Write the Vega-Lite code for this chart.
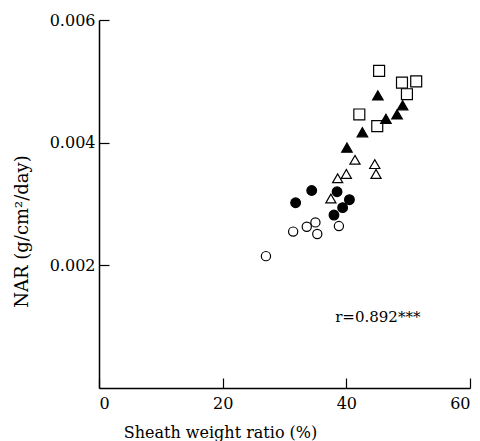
{
  "$schema": "https://vega.github.io/schema/vega-lite/v6.json",
  "width": 371,
  "height": 368,
  "autosize": {"type": "none"},
  "padding": {"left": 99, "top": 20, "right": 10, "bottom": 53},
  "background": "white",
  "config": {
    "view": {"stroke": null},
    "axis": {
      "grid": false,
      "domainColor": "black",
      "domainWidth": 1.5,
      "tickColor": "black",
      "tickWidth": 1.2,
      "labelColor": "black",
      "titleColor": "black",
      "labelFont": "DejaVu Serif",
      "titleFont": "DejaVu Serif",
      "labelFontSize": 16,
      "titleFontWeight": "normal"
    }
  },
  "datasets": {
    "pts": [
      {"group": "open square", "ratio": 45.3, "nar": 0.00517},
      {"group": "open square", "ratio": 49.0, "nar": 0.00498},
      {"group": "open square", "ratio": 51.3, "nar": 0.00500},
      {"group": "open square", "ratio": 49.8, "nar": 0.00479},
      {"group": "open square", "ratio": 42.1, "nar": 0.00446},
      {"group": "open square", "ratio": 45.0, "nar": 0.00427},
      {"group": "filled triangle", "ratio": 45.1, "nar": 0.00477},
      {"group": "filled triangle", "ratio": 49.1, "nar": 0.00461},
      {"group": "filled triangle", "ratio": 48.2, "nar": 0.00446},
      {"group": "filled triangle", "ratio": 46.4, "nar": 0.00439},
      {"group": "filled triangle", "ratio": 42.6, "nar": 0.00417},
      {"group": "filled triangle", "ratio": 40.1, "nar": 0.00392},
      {"group": "open triangle", "ratio": 41.4, "nar": 0.00372},
      {"group": "open triangle", "ratio": 44.6, "nar": 0.00365},
      {"group": "open triangle", "ratio": 44.8, "nar": 0.00349},
      {"group": "open triangle", "ratio": 40.0, "nar": 0.00349},
      {"group": "open triangle", "ratio": 38.6, "nar": 0.00342},
      {"group": "open triangle", "ratio": 37.5, "nar": 0.00309},
      {"group": "filled circle", "ratio": 34.4, "nar": 0.00322},
      {"group": "filled circle", "ratio": 31.8, "nar": 0.00302},
      {"group": "filled circle", "ratio": 38.5, "nar": 0.00320},
      {"group": "filled circle", "ratio": 40.5, "nar": 0.00307},
      {"group": "filled circle", "ratio": 39.4, "nar": 0.00294},
      {"group": "filled circle", "ratio": 38.0, "nar": 0.00282},
      {"group": "open circle", "ratio": 35.0, "nar": 0.00270},
      {"group": "open circle", "ratio": 33.6, "nar": 0.00263},
      {"group": "open circle", "ratio": 31.4, "nar": 0.00255},
      {"group": "open circle", "ratio": 35.3, "nar": 0.00251},
      {"group": "open circle", "ratio": 38.8, "nar": 0.00264},
      {"group": "open circle", "ratio": 27.0, "nar": 0.00215}
    ],
    "note": [
      {"label": "r=0.892***", "ratio": 38.2, "nar": 0.00116}
    ]
  },
  "layer": [
    {
      "data": {"name": "pts"},
      "mark": {"type": "point", "filled": false, "stroke": "black", "strokeWidth": 1.2, "opacity": 1},
      "encoding": {
        "x": {
          "field": "ratio", "type": "quantitative",
          "scale": {"domain": [0, 60], "nice": false, "zero": false},
          "axis": {
            "values": [0, 20, 40, 60],
            "tickSize": -10,
            "labelPadding": 17,
            "title": "Sheath weight ratio (%)",
            "titleFontSize": 16,
            "titleX": 121,
            "titleY": 36,
            "titleBaseline": "top"
          }
        },
        "y": {
          "field": "nar", "type": "quantitative",
          "scale": {"domain": [0, 0.006], "nice": false},
          "axis": {
            "values": [0.002, 0.004, 0.006],
            "format": ".3f",
            "tickSize": -10,
            "labelPadding": 14,
            "title": "NAR (g/cm²/day)",
            "titleFontSize": 18,
            "titleAngle": -90,
            "titleX": -77,
            "titleY": 211,
            "titleBaseline": "middle",
            "titleAlign": "center"
          }
        },
        "shape": {
          "field": "group", "type": "nominal",
          "scale": {
            "domain": ["open circle", "filled circle", "open triangle", "filled triangle", "open square"],
            "range": ["circle", "circle", "triangle-up", "triangle-up", "square"]
          },
          "legend": null
        },
        "fill": {
          "field": "group", "type": "nominal",
          "scale": {
            "domain": ["open circle", "filled circle", "open triangle", "filled triangle", "open square"],
            "range": ["white", "black", "white", "black", "white"]
          },
          "legend": null
        },
        "size": {
          "field": "group", "type": "nominal",
          "scale": {
            "domain": ["open circle", "filled circle", "open triangle", "filled triangle", "open square"],
            "range": [85, 120, 80, 85, 95]
          },
          "legend": null
        }
      }
    },
    {
      "data": {"name": "note"},
      "mark": {"type": "text", "font": "DejaVu Serif", "fontSize": 15, "align": "left", "baseline": "middle", "color": "black"},
      "encoding": {
        "x": {"field": "ratio", "type": "quantitative"},
        "y": {"field": "nar", "type": "quantitative"},
        "text": {"field": "label"}
      }
    }
  ]
}
